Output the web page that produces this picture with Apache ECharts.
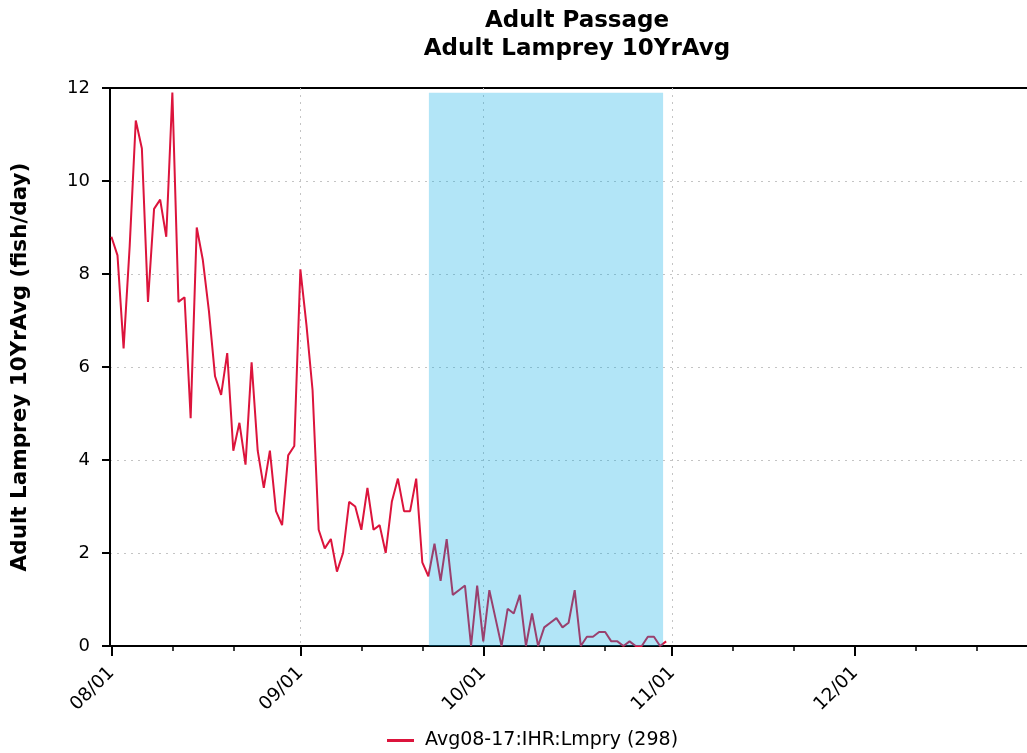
<!DOCTYPE html>
<html>
<head>
<meta charset="utf-8">
<title>Adult Passage</title>
<script src="https://cdn.jsdelivr.net/npm/echarts@6/dist/echarts.min.js"></script>
<style>
  html, body { margin: 0; padding: 0; background: #ffffff; }
  #chart { width: 1027px; height: 753px; }
</style>
</head>
<body>
<div id="chart"></div>
<script>
// Daily 10-year average adult lamprey passage, first value is 08/01.
const seriesName = 'Avg08-17:IHR:Lmpry (298)';
const firstDay = [2017, 7, 1];
const lampreyPerDay = [
  8.8, 8.4, 6.4, 8.6, 11.3, 10.7, 7.4, 9.4, 9.6, 8.8,
  11.9, 7.4, 7.5, 4.9, 9.0, 8.3, 7.2, 5.8, 5.4, 6.3,
  4.2, 4.8, 3.9, 6.1, 4.2, 3.4, 4.2, 2.9, 2.6, 4.1,
  4.3, 8.1, 6.9, 5.5, 2.5, 2.1, 2.3, 1.6, 2.0, 3.1,
  3.0, 2.5, 3.4, 2.5, 2.6, 2.0, 3.1, 3.6, 2.9, 2.9,
  3.6, 1.8, 1.5, 2.2, 1.4, 2.3, 1.1, 1.2, 1.3, 0.0,
  1.3, 0.1, 1.2, 0.6, 0.0, 0.8, 0.7, 1.1, 0.0, 0.7,
  0.0, 0.4, 0.5, 0.6, 0.4, 0.5, 1.2, 0.0, 0.2, 0.2,
  0.3, 0.3, 0.1, 0.1, 0.0, 0.1, 0.0, 0.0, 0.2, 0.2,
  0.0, 0.1
];
// Month starts carry labels; the 11th and 21st get short ticks.
const monthStarts = [[2017, 7, 1], [2017, 8, 1], [2017, 9, 1], [2017, 10, 1], [2017, 11, 1]];
const minorDays = [11, 21];
// Highlighted passage window.
const windowStart = [2017, 8, 22, 2];
const windowEnd = [2017, 9, 30, 12];
const yTicks = [0, 2, 4, 6, 8, 10, 12];

const FONT = 'DejaVu Sans';
const ts = (a) => new Date(a[0], a[1], a[2], a[3] || 0, a[4] || 0).getTime();
const pad = (n) => (n < 10 ? '0' : '') + n;

const points = lampreyPerDay.map((v, i) =>
  [new Date(firstDay[0], firstDay[1], firstDay[2] + i).getTime(), v]);
const majorTicks = monthStarts.map(ts);
const minorTicks = [];
monthStarts.forEach((m) => minorDays.forEach((d) => minorTicks.push(ts([m[0], m[1], d]))));

const xMin = new Date(2017, 6, 31, 18, 30).getTime();
const xMax = new Date(2017, 11, 31).getTime();
const windowTop = Math.max(...lampreyPerDay);

const chart = echarts.init(document.getElementById('chart'), null, { renderer: 'canvas' });

const gridLine = {
  show: true, showMinLine: false, showMaxLine: false,
  lineStyle: { color: '#c4c4c4', type: [2, 5], width: 1 }
};

const option = {
  backgroundColor: '#ffffff',
  animation: false,
  textStyle: { fontFamily: FONT },
  title: [
    {
      text: 'Adult Passage',
      left: 572, top: 5, textAlign: 'center',
      textStyle: { fontFamily: FONT, fontSize: 23, fontWeight: 'bold', color: '#000' }
    },
    {
      text: 'Adult Lamprey 10YrAvg',
      left: 572, top: 33, textAlign: 'center',
      textStyle: { fontFamily: FONT, fontSize: 23, fontWeight: 'bold', color: '#000' }
    }
  ],
  legend: {
    data: [seriesName],
    left: 382, top: 726,
    itemWidth: 27, itemHeight: 3,
    icon: 'rect',
    textStyle: { fontFamily: FONT, fontSize: 19, color: '#000', padding: [0, 0, 0, 6] }
  },
  grid: {
    left: 110, top: 88, right: -11, bottom: 107,
    outerBoundsMode: 'none',
    containLabel: false,
    show: true, borderColor: '#000', borderWidth: 2,
    backgroundColor: 'transparent'
  },
  xAxis: [
    {
      type: 'value', min: xMin, max: xMax,
      axisLine: { show: true, lineStyle: { color: '#000', width: 2 } },
      axisTick: { show: true, customValues: majorTicks, length: 10, lineStyle: { color: '#000', width: 2 } },
      axisLabel: {
        customValues: majorTicks,
        rotate: 45, margin: 24,
        fontFamily: FONT, fontSize: 18.5, color: '#000',
        formatter: (v) => { const d = new Date(v); return pad(d.getMonth() + 1) + '/' + pad(d.getDate()); }
      },
      splitLine: gridLine
    },
    {
      type: 'value', min: xMin, max: xMax, position: 'bottom',
      axisLine: { show: false },
      axisTick: { show: true, customValues: minorTicks, length: 5, lineStyle: { color: '#000', width: 1.5 } },
      axisLabel: { show: false },
      splitLine: { show: false }
    }
  ],
  yAxis: {
    type: 'value', min: yTicks[0], max: yTicks[yTicks.length - 1], interval: 2,
    name: 'Adult Lamprey 10YrAvg (fish/day)',
    nameLocation: 'middle', nameGap: 79,
    nameTextStyle: { fontFamily: FONT, fontSize: 21.5, fontWeight: 'bold', color: '#000' },
    axisLine: { show: true, lineStyle: { color: '#000', width: 2 } },
    axisTick: { show: true, length: 8, lineStyle: { color: '#000', width: 2 } },
    axisLabel: { fontFamily: FONT, fontSize: 18, color: '#000', margin: 20 },
    splitLine: gridLine
  },
  series: [
    {
      name: seriesName,
      type: 'line',
      data: points,
      showSymbol: false,
      symbol: 'none',
      lineStyle: { color: '#dc143c', width: 2 },
      itemStyle: { color: '#dc143c' },
      z: 2,
      markArea: {
        silent: true,
        z: 3,
        itemStyle: { color: 'rgba(0,170,230,0.3)', borderWidth: 0 },
        data: [[
          { xAxis: ts(windowStart), yAxis: 0 },
          { xAxis: ts(windowEnd), yAxis: windowTop }
        ]]
      }
    }
  ]
};

chart.setOption(option);
</script>
</body>
</html>
